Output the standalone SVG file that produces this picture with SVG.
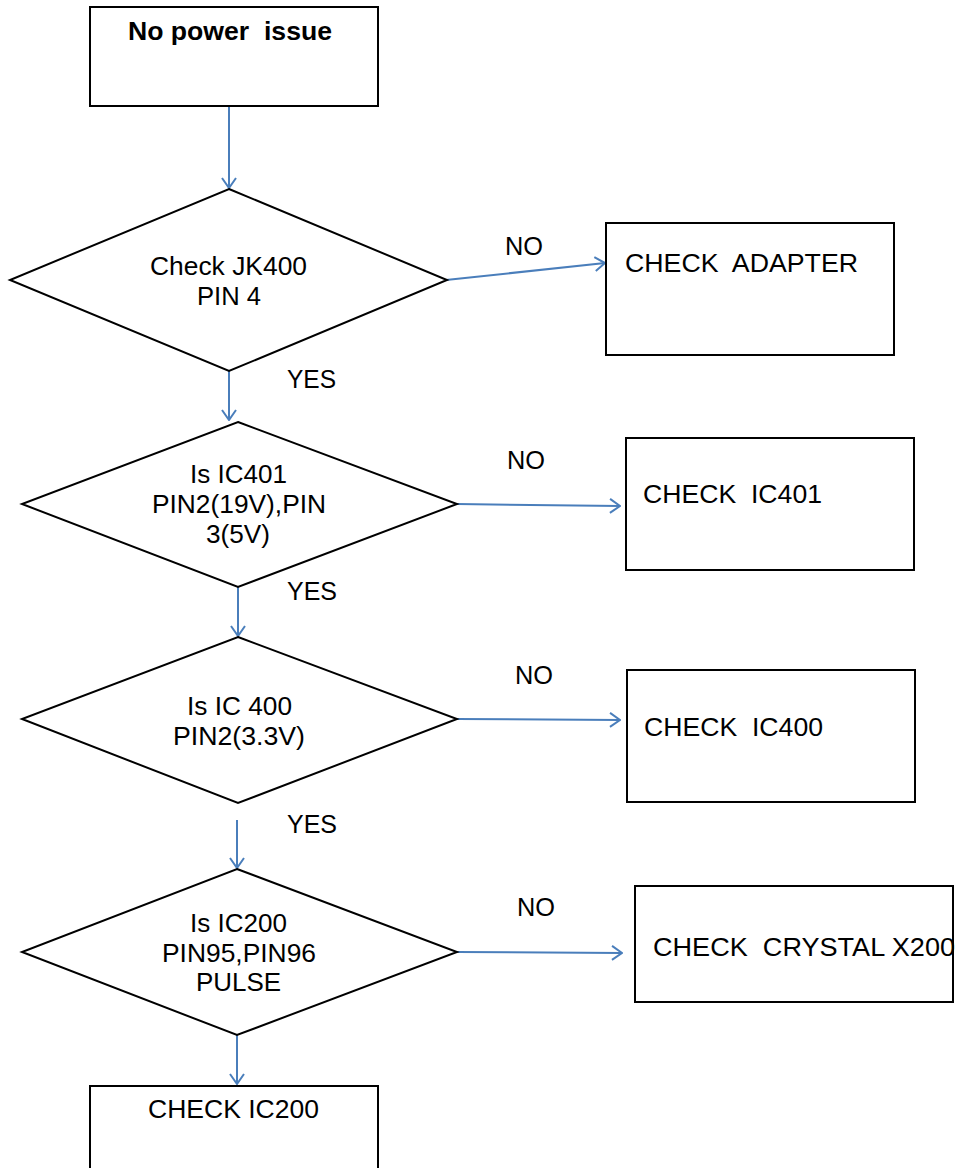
<svg xmlns="http://www.w3.org/2000/svg" width="959" height="1168" viewBox="0 0 959 1168">
<style>
.box{fill:#fff;stroke:#000;stroke-width:2}
.t{font-family:"Liberation Sans",Arial,sans-serif;font-size:25px;fill:#000;white-space:pre}
.b{font-weight:bold}
.c{fill:none;stroke:#4a7ebb;stroke-width:2;marker-end:url(#ah)}
</style>
<defs>
<marker id="ah" viewBox="0 0 12 16" refX="11" refY="8" markerWidth="12" markerHeight="16" markerUnits="userSpaceOnUse" orient="auto">
<path d="M1,1 L11,8 L1,15" fill="none" stroke="#4a7ebb" stroke-width="2"/>
</marker>
</defs>
<rect width="959" height="1168" fill="#fff"/>
<g id="connectors">
<line class="c" x1="229" y1="107" x2="229" y2="188"/>
<line class="c" x1="446" y1="280" x2="605" y2="263"/>
<line class="c" x1="229" y1="371" x2="229" y2="420"/>
<line class="c" x1="457" y1="504" x2="620" y2="506"/>
<line class="c" x1="238" y1="587" x2="238" y2="636"/>
<line class="c" x1="457" y1="719" x2="620" y2="720"/>
<line class="c" x1="237" y1="820" x2="237" y2="868"/>
<line class="c" x1="457" y1="952" x2="622" y2="953"/>
<line class="c" x1="237" y1="1035" x2="237" y2="1084"/>
<text class="t" x="505" y="255" textLength="38" lengthAdjust="spacingAndGlyphs">NO</text>
<text class="t" x="287" y="388" textLength="49" lengthAdjust="spacingAndGlyphs">YES</text>
<text class="t" x="507" y="469" textLength="38" lengthAdjust="spacingAndGlyphs">NO</text>
<text class="t" x="287" y="600" textLength="50" lengthAdjust="spacingAndGlyphs">YES</text>
<text class="t" x="515" y="684" textLength="38" lengthAdjust="spacingAndGlyphs">NO</text>
<text class="t" x="287" y="833" textLength="50" lengthAdjust="spacingAndGlyphs">YES</text>
<text class="t" x="517" y="916" textLength="38" lengthAdjust="spacingAndGlyphs">NO</text>
</g>
<g id="start">
<rect class="box" x="90" y="7" width="288" height="99"/>
<text class="t b" x="128" y="40" textLength="204" lengthAdjust="spacingAndGlyphs">No power  issue</text>
</g>
<g id="d1">
<polygon class="box" points="229,189 447,280 229,371 10,280"/>
<text class="t" x="150" y="275" textLength="157" lengthAdjust="spacingAndGlyphs">Check JK400</text>
<text class="t" x="197" y="305" textLength="64" lengthAdjust="spacingAndGlyphs">PIN 4</text>
</g>
<g id="adapter">
<rect class="box" x="606" y="223" width="288" height="132"/>
<text class="t" x="625" y="272" textLength="233" lengthAdjust="spacingAndGlyphs">CHECK  ADAPTER</text>
</g>
<g id="d2">
<polygon class="box" points="238,422 457,504 238,587 22,504"/>
<text class="t" x="190" y="483" textLength="97" lengthAdjust="spacingAndGlyphs">Is IC401</text>
<text class="t" x="152" y="513" textLength="174" lengthAdjust="spacingAndGlyphs">PIN2(19V),PIN</text>
<text class="t" x="206" y="543" textLength="64" lengthAdjust="spacingAndGlyphs">3(5V)</text>
</g>
<g id="ic401">
<rect class="box" x="626" y="438" width="288" height="132"/>
<text class="t" x="643" y="503" textLength="179" lengthAdjust="spacingAndGlyphs">CHECK  IC401</text>
</g>
<g id="d3">
<polygon class="box" points="238,637 457,719 238,803 22,719"/>
<text class="t" x="187" y="715" textLength="105" lengthAdjust="spacingAndGlyphs">Is IC 400</text>
<text class="t" x="173" y="745" textLength="132" lengthAdjust="spacingAndGlyphs">PIN2(3.3V)</text>
</g>
<g id="ic400">
<rect class="box" x="627" y="670" width="288" height="132"/>
<text class="t" x="644" y="736" textLength="179" lengthAdjust="spacingAndGlyphs">CHECK  IC400</text>
</g>
<g id="d4">
<polygon class="box" points="237,869 457,952 237,1035 22,952"/>
<text class="t" x="190" y="932" textLength="97" lengthAdjust="spacingAndGlyphs">Is IC200</text>
<text class="t" x="162" y="962" textLength="154" lengthAdjust="spacingAndGlyphs">PIN95,PIN96</text>
<text class="t" x="196" y="991" textLength="85" lengthAdjust="spacingAndGlyphs">PULSE</text>
</g>
<g id="crystal">
<rect class="box" x="635" y="886" width="318" height="116"/>
<text class="t" x="653" y="956" textLength="302" lengthAdjust="spacingAndGlyphs">CHECK  CRYSTAL X200</text>
</g>
<g id="ic200">
<rect class="box" x="90" y="1086" width="288" height="100"/>
<text class="t" x="148" y="1118" textLength="171" lengthAdjust="spacingAndGlyphs">CHECK IC200</text>
</g>
</svg>
